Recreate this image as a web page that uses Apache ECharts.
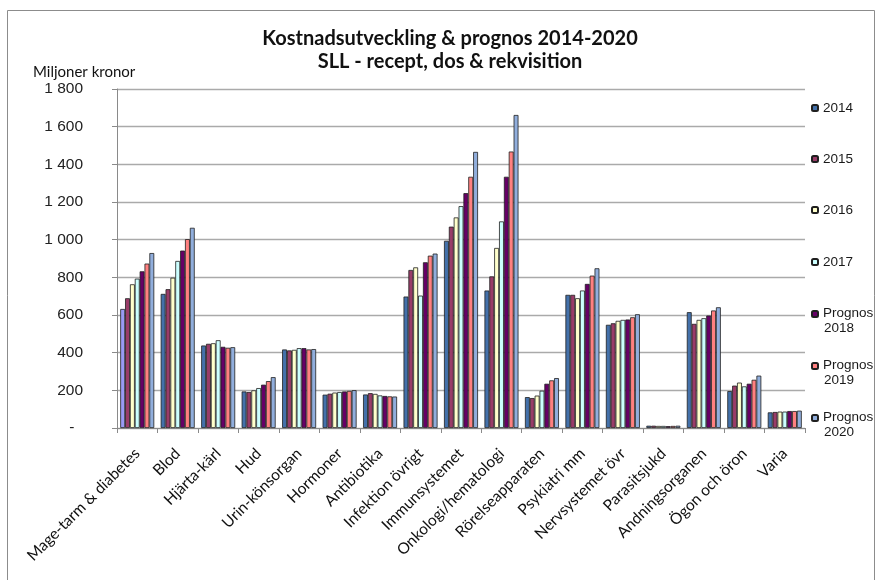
<!DOCTYPE html>
<html>
<head>
<meta charset="utf-8">
<script src="https://cdn.jsdelivr.net/npm/echarts@6/dist/echarts.min.js"></script>
<style>
  html, body { margin: 0; padding: 0; background: #fff; }
  #chart { width: 880px; height: 580px; }
</style>
</head>
<body>
<div id="chart"></div>
<script>
// Therapeutic areas (x axis)
const categories = [
  'Mage-tarm & diabetes', 'Blod', 'Hjärta-kärl', 'Hud', 'Urin-könsorgan',
  'Hormoner', 'Antibiotika', 'Infektion övrigt', 'Immunsystemet',
  'Onkologi/hematologi', 'Rörelseapparaten', 'Psykiatri mm',
  'Nervsystemet övr', 'Parasitsjukd', 'Andningsorganen', 'Ögon och öron', 'Varia'
];

// Series names
const seriesNames = ['2014', '2015', '2016', '2017', 'Prognos 2018', 'Prognos 2019', 'Prognos 2020'];

// Cost per area, miljoner kronor
const v2014 = [632, 712, 438, 194, 417, 177, 178, 698, 994, 730, 164, 707, 548, 12, 615, 196, 83];
const v2015 = [689, 737, 447, 191, 412, 182, 185, 839, 1069, 805, 159, 707, 556, 12, 553, 225, 85];
const v2016 = [763, 798, 450, 200, 415, 188, 181, 853, 1118, 956, 172, 689, 569, 11, 574, 241, 87];
const v2017 = [793, 887, 466, 212, 424, 191, 173, 703, 1178, 1097, 198, 730, 574, 11, 583, 221, 87];
const p2018 = [832, 942, 431, 230, 424, 194, 170, 880, 1247, 1334, 235, 765, 576, 10, 597, 235, 90];
const p2019 = [873, 1003, 426, 249, 417, 197, 168, 915, 1334, 1468, 253, 809, 588, 11, 624, 256, 90];
const p2020 = [929, 1063, 429, 270, 419, 201, 167, 926, 1466, 1662, 265, 848, 604, 12, 641, 278, 92];

// Value axis ticks
const yMin = 0;
const yMax = 1800;
const yStep = 200;

const seriesValues = [v2014, v2015, v2016, v2017, p2018, p2019, p2020];
const colors = ['#4471AA', '#993C68', '#FFFFCC', '#CCFFFF', '#660066', '#FF8080', '#91AEDC'];

const sansFont = "'Liberation Sans', Arial, sans-serif";
const bodyFont = "Lato, 'Open Sans', sans-serif";

function fmtThousands(v) {
  if (v === 0) return '-  ';
  return String(v).replace(/\B(?=(\d{3})+(?!\d))/g, ' ');
}

const series = seriesValues.map((vals, i) => ({
  name: seriesNames[i],
  type: 'bar',
  barGap: '0%',
  barCategoryGap: '16%',
  itemStyle: { color: colors[i], borderColor: '#1f1f1f', borderWidth: 0.8 },
  emphasis: { disabled: true },
  // the first 2014 bar is filled in a lighter violet
  data: vals.map((v, j) => (i === 0 && j === 0)
    ? { value: v, itemStyle: { color: '#9A9AF5' } }
    : v)
}));

// Legend entries stacked on the right, one legend block per series
const legendCenters = [108, 159, 210, 262, 314, 366, 418];
const legends = seriesNames.map((name, i) => {
  const twoLine = name.indexOf('Prognos') === 0;
  return {
    data: [name],
    orient: 'vertical',
    left: 811,
    top: legendCenters[i] - (twoLine ? 8 : 7.5),
    padding: 0,
    itemWidth: 6,
    itemHeight: 6,
    itemGap: 0,
    selectedMode: false,
    textStyle: {
      fontFamily: sansFont, fontSize: 13.5, color: '#1a1a1a', lineHeight: 15,
      rich: {
        a: { fontFamily: sansFont, fontSize: 13.5, color: '#1a1a1a', lineHeight: 15 },
        b: { fontFamily: sansFont, fontSize: 13.5, color: '#1a1a1a', lineHeight: 1, verticalAlign: 'top', padding: [0, 0, 0, 1] }
      }
    },
    formatter: twoLine
      ? (n) => '{a|Prognos}\n{b|' + n.replace('Prognos ', '') + '}'
      : (n) => n
  };
});

const chart = echarts.init(document.getElementById('chart'), null, { renderer: 'canvas' });
chart.setOption({
  backgroundColor: '#ffffff',
  animation: false,
  textStyle: { fontFamily: bodyFont },
  title: [
    {
      text: 'Kostnadsutveckling & prognos 2014-2020\nSLL - recept, dos & rekvisition',
      left: 445,
      top: 22,
      textAlign: 'center',
      textStyle: { fontFamily: bodyFont, fontWeight: 'bold', fontSize: 20, lineHeight: 23, color: '#111' }
    },
    {
      text: 'Miljoner kronor',
      left: 28,
      top: 60,
      textStyle: { fontFamily: bodyFont, fontWeight: 'normal', fontSize: 15, color: '#111' }
    }
  ],
  legend: legends,
  grid: { left: 117, right: 75, top: 89, bottom: 152, containLabel: false },
  xAxis: {
    type: 'category',
    data: categories,
    boundaryGap: true,
    axisLine: { lineStyle: { color: '#8a8a8a', width: 1 } },
    axisTick: { show: true, length: 5, alignWithLabel: false, lineStyle: { color: '#8a8a8a' } },
    axisLabel: {
      interval: 0,
      rotate: 45,
      margin: 23,
      fontFamily: bodyFont,
      fontSize: 15.5,
      color: '#111'
    }
  },
  yAxis: {
    type: 'value',
    min: yMin,
    max: yMax,
    interval: yStep,
    axisLine: { show: true, lineStyle: { color: '#8a8a8a', width: 1 } },
    axisTick: { show: true, length: 5, lineStyle: { color: '#8a8a8a' } },
    splitLine: { show: true, lineStyle: { color: '#aaaaaa', width: 1.3 } },
    axisLabel: {
      margin: 34,
      fontFamily: sansFont,
      fontSize: 15.5,
      color: '#222',
      formatter: fmtThousands
    }
  },
  graphic: [
    {
      type: 'rect',
      shape: { x: 7.5, y: 10.5, width: 867, height: 600 },
      style: { fill: 'none', stroke: '#8c8c8c', lineWidth: 1 },
      silent: true,
      z: -10
    }
  ],
  series: series
});
</script>
</body>
</html>
